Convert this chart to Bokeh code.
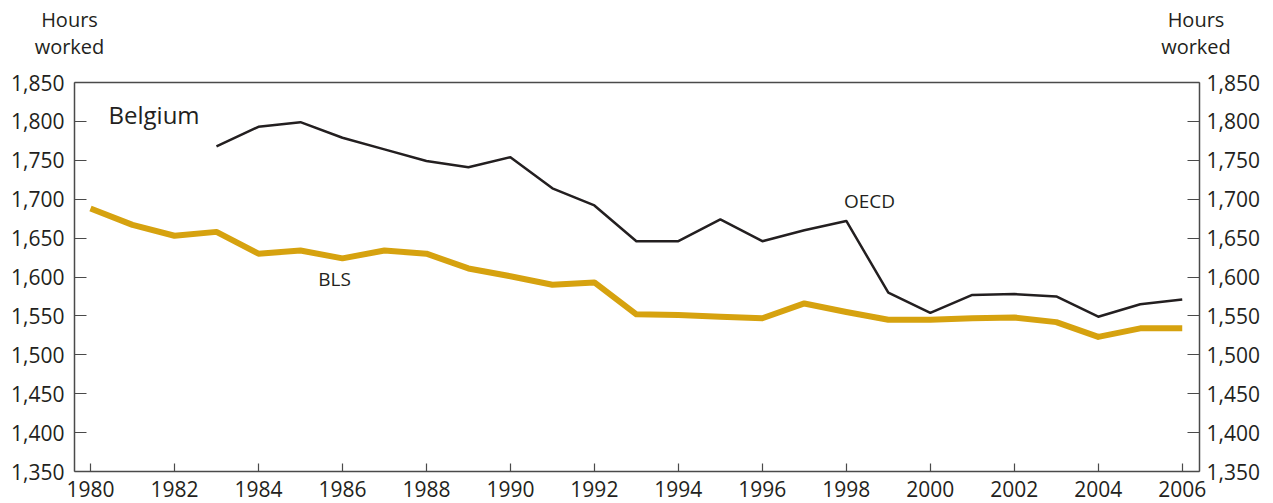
from bokeh.plotting import figure
from bokeh.models import Range1d, LinearAxis, Label, FixedTicker, NumeralTickFormatter
from bokeh.embed import file_html
from bokeh.resources import INLINE

years_bls = list(range(1980, 2007))
bls = [1688, 1667, 1653, 1658, 1630, 1634, 1624, 1634, 1630, 1611,
       1601, 1590, 1593, 1552, 1551, 1549, 1547, 1566, 1555, 1545,
       1545, 1547, 1548, 1542, 1523, 1534, 1534]

years_oecd = list(range(1983, 2007))
oecd = [1768, 1793, 1799, 1779, 1764, 1749, 1741, 1754, 1714, 1692,
        1646, 1646, 1674, 1646, 1660, 1672, 1580, 1554, 1577, 1578,
        1575, 1549, 1565, 1571]

x_ticks = list(range(1980, 2007, 2))
y_ticks = list(range(1350, 1851, 50))

TXT = "#231f20"
AX = "#4a4a4a"
FONT = "Open Sans"

# canvas geometry (pixels)
W, H, BOTTOM = 1273, 503, 471
PX_PER_YEAR = 41.99
PX_1980 = 90
PX_PER_UNIT = 389 / 500.0
Y0, YAX = 1350, 1850

def dx(px):
    return 1980 + (px - PX_1980) / PX_PER_YEAR

def dy(py):
    return Y0 + (BOTTOM - py) / PX_PER_UNIT

XL, XR = dx(74), dx(1199)

p = figure(frame_width=W, frame_height=H, output_backend="svg",
           toolbar_location=None, x_range=Range1d(dx(0), dx(W)), y_range=Range1d(dy(H), dy(0)),
           min_border=0)
p.grid.visible = False
p.outline_line_color = None
p.background_fill_color = "white"
p.border_fill_color = "white"
p.xaxis.visible = False
p.yaxis.visible = False

def style_axis(ax, standoff, tick_in):
    ax.axis_line_color = AX
    ax.axis_line_width = 1.5
    ax.major_tick_line_color = AX
    ax.major_tick_line_width = 1.2
    ax.major_tick_in = tick_in
    ax.major_tick_out = 0
    ax.minor_tick_line_color = None
    ax.major_label_text_font = FONT
    ax.major_label_text_font_size = "21px"
    ax.major_label_text_color = TXT
    ax.major_label_standoff = standoff

bx = LinearAxis(ticker=FixedTicker(ticks=x_ticks), bounds=(XL, XR), fixed_location=Y0)
style_axis(bx, 9, 8)
p.add_layout(bx, "below")

ly = LinearAxis(ticker=FixedTicker(ticks=y_ticks), formatter=NumeralTickFormatter(format="0,0"),
                bounds=(Y0, YAX), fixed_location=XL)
style_axis(ly, 10, 12)
p.add_layout(ly, "left")

ry = LinearAxis(ticker=FixedTicker(ticks=y_ticks), formatter=NumeralTickFormatter(format="0,0"),
                bounds=(Y0, YAX), fixed_location=XR)
style_axis(ry, 7, 12)
p.add_layout(ry, "right")

top = LinearAxis(ticker=FixedTicker(ticks=[]), bounds=(XL, XR), fixed_location=YAX)
style_axis(top, 0, 0)
top.major_tick_line_color = None
top.major_label_text_font_size = "0px"
p.add_layout(top, "above")

p.line(years_oecd, oecd, line_color=TXT, line_width=2.5, line_join="round")
p.line(years_bls, bls, line_color="#d6a20f", line_width=6, line_join="round")

def lab(text, x, y, size, align="center", baseline="alphabetic"):
    p.add_layout(Label(x=x, y=y, text=text,
                       text_font=FONT, text_font_size=size,
                       text_color=TXT, text_align=align, text_baseline=baseline))

lab("Hours", dx(69), dy(19), "20px")
lab("worked", dx(69), dy(46), "20px")
lab("Hours", dx(1195.5), dy(19), "20px")
lab("worked", dx(1195.5), dy(46), "20px")
lab("Belgium", dx(108), dy(114), "24px", align="left")
lab("OECD", dx(869), dy(200), "19px")
lab("BLS", dx(334), dy(278), "19px")

open("out.html", "w").write(file_html(p, INLINE))
